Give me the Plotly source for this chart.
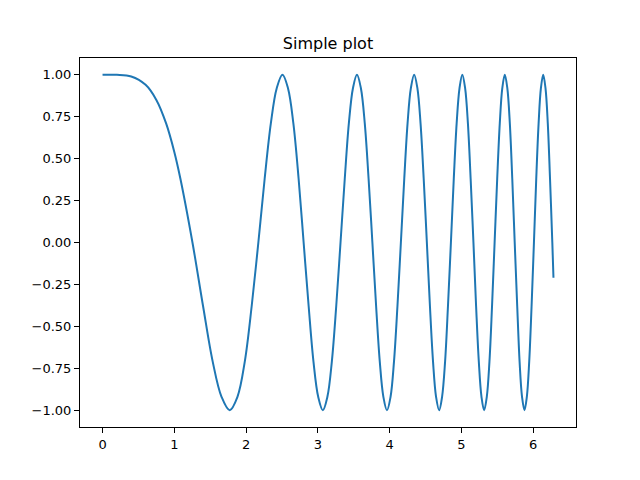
import plotly.graph_objects as go

# points (x, y)
x_vals = [0.0, 0.2, 0.4, 0.6, 0.75, 0.886, 1.0, 1.085, 1.253, 1.401, 1.535, 1.658, 1.772,
          1.880, 1.982, 2.078, 2.171, 2.259, 2.345, 2.427,
          2.507, 2.584, 2.659, 2.732, 2.802, 2.872, 2.939, 3.005, 3.070, 3.133, 3.195, 3.256,
          3.316, 3.375, 3.432, 3.489,
          3.545, 3.600, 3.654, 3.707, 3.760, 3.812, 3.863, 3.913, 3.963, 4.013, 4.061, 4.109,
          4.157, 4.204, 4.250, 4.296,
          4.342, 4.387, 4.431, 4.475, 4.519, 4.562, 4.605, 4.647, 4.690, 4.731, 4.773, 4.813,
          4.854, 4.894, 4.934, 4.974,
          5.013, 5.052, 5.091, 5.129, 5.168, 5.205, 5.243, 5.280, 5.317, 5.354, 5.391, 5.427,
          5.463, 5.499, 5.535, 5.570,
          5.605, 5.640, 5.675, 5.709, 5.743, 5.778, 5.811, 5.845, 5.879, 5.912, 5.945, 5.978,
          6.011, 6.043, 6.076, 6.108,
          6.140, 6.172, 6.204, 6.235, 6.267, 6.283]
y_vals = [1.0, 1.0, 0.99, 0.94, 0.85, 0.71, 0.54, 0.38, 0.0, -0.38, -0.71, -0.92, -1.0,
          -0.92, -0.71, -0.38, 0.0, 0.38, 0.71, 0.92,
          1.0, 0.92, 0.71, 0.38, 0.0, -0.38, -0.71, -0.92, -1.0, -0.92, -0.71, -0.38,
          0.0, 0.38, 0.71, 0.92,
          1.0, 0.92, 0.71, 0.38, 0.0, -0.38, -0.71, -0.92, -1.0, -0.92, -0.71, -0.38,
          0.0, 0.38, 0.71, 0.92,
          1.0, 0.92, 0.71, 0.38, 0.0, -0.38, -0.71, -0.92, -1.0, -0.92, -0.71, -0.38,
          0.0, 0.38, 0.71, 0.92,
          1.0, 0.92, 0.71, 0.38, 0.0, -0.38, -0.71, -0.92, -1.0, -0.92, -0.71, -0.38,
          0.0, 0.38, 0.71, 0.92,
          1.0, 0.92, 0.71, 0.38, 0.0, -0.38, -0.71, -0.92, -1.0, -0.92, -0.71, -0.38,
          0.0, 0.38, 0.71, 0.92,
          1.0, 0.92, 0.71, 0.38, 0.0, -0.21]

x_ticks = [0, 1, 2, 3, 4, 5, 6]
y_ticks = [-1.0, -0.75, -0.5, -0.25, 0.0, 0.25, 0.5, 0.75, 1.0]

fig = go.Figure()
fig.add_trace(go.Scatter(x=x_vals, y=y_vals, mode="lines",
                         line=dict(color="#1f77b4", width=2, shape="spline", smoothing=1)))

axis_style = dict(showline=True, linecolor="black", linewidth=1, mirror=True,
                  ticks="outside", ticklen=5, tickcolor="black", showgrid=False,
                  zeroline=False, tickfont=dict(size=13, color="black"))

# page body adds an 8px offset, so the figure is a bit smaller than the window
fig.update_layout(
    width=632, height=472,
    margin=dict(l=72, r=64, t=50, b=53),
    paper_bgcolor="white", plot_bgcolor="white",
    font=dict(family="DejaVu Sans", color="black"),
    showlegend=False,
    title=dict(text="Simple plot", x=0.5, xanchor="center", y=1 - 41 / 472, yanchor="bottom",
               xref="paper", font=dict(size=16)),
    xaxis=dict(range=[-0.314, 6.597], tickvals=x_ticks, **axis_style),
    yaxis=dict(range=[-1.1, 1.1], tickvals=y_ticks, tickformat=".2f", **axis_style),
)

fig.write_html("out.html")
